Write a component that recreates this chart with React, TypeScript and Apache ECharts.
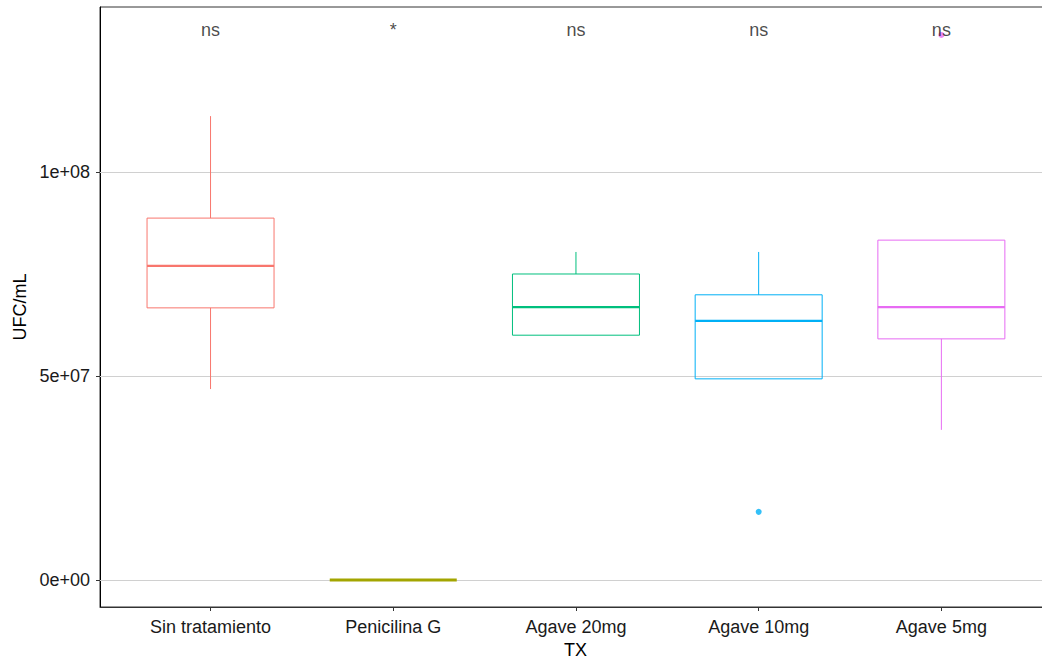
import React, { useEffect, useRef } from "react";
import * as echarts from "echarts";

const categories = ["Sin tratamiento", "Penicilina G", "Agave 20mg", "Agave 10mg", "Agave 5mg"];
// [min whisker, Q1, median, Q3, max whisker]
const boxStats = [
  [4.68e7, 6.67e7, 7.7e7, 8.87e7, 1.137e8],
  [0, 0, 0, 0, 0],
  [6.0e7, 6.0e7, 6.69e7, 7.5e7, 8.04e7],
  [4.93e7, 4.93e7, 6.35e7, 6.99e7, 8.04e7],
  [3.68e7, 5.91e7, 6.69e7, 8.33e7, 8.33e7],
];
const outliers = [
  [3, 1.67e7],
  [4, 1.336e8],
];
const sigLabels = ["ns", "*", "ns", "ns", "ns"];
const sigY = 1.348e8;
const colors = ["#F8766D", "#A3A500", "#00BF7D", "#00B0F6", "#E76BF3"];
const yTicks = [0, 5e7, 1e8];
const yTickLabels = ["0e+00", "5e+07", "1e+08"];
const xTicks = [0, 1, 2, 3, 4];

const FONT = "Liberation Sans, Arial, sans-serif";
const FS = 18;
const BOX_W = 127;

export default function App() {
  const ref = useRef<HTMLDivElement>(null);
  useEffect(() => {
    document.body.style.margin = "0";
    const chart = echarts.init(ref.current!, null, { renderer: "svg" });
    chart.setOption({
      animation: false,
      backgroundColor: "#ffffff",
      grid: {
        left: 100,
        right: -9,
        top: 7,
        bottom: 53,
        containLabel: false,
        outerBoundsMode: "none",
        show: true,
        borderColor: "#333333",
        borderWidth: 1,
        backgroundColor: "transparent",
      },
      xAxis: {
        type: "value",
        min: -0.605,
        max: 4.6,
        name: "TX",
        nameLocation: "middle",
        nameGap: 33,
        nameTextStyle: { fontFamily: FONT, fontSize: FS, color: "#000" },
        axisLine: { show: true, onZero: false, lineStyle: { color: "#333333", width: 1 } },
        axisTick: { show: true, length: 4, lineStyle: { color: "#333333" }, customValues: xTicks },
        axisLabel: {
          fontFamily: FONT,
          fontSize: FS,
          color: "#1a1a1a",
          margin: 11,
          customValues: xTicks,
          formatter: (v: number) => categories[Math.round(v)] ?? "",
        },
        splitLine: { show: false },
      },
      yAxis: {
        type: "value",
        min: -6.618e6,
        max: 1.4044e8,
        name: "UFC/mL",
        nameLocation: "middle",
        nameRotate: 90,
        nameGap: 71,
        nameTextStyle: { fontFamily: FONT, fontSize: FS, color: "#000" },
        axisLine: { show: true, onZero: false, lineStyle: { color: "#000000", width: 1 } },
        axisTick: { show: true, length: 4, lineStyle: { color: "#333333" }, customValues: yTicks },
        axisLabel: {
          fontFamily: FONT,
          fontSize: FS,
          color: "#1a1a1a",
          margin: 10,
          customValues: yTicks,
          formatter: (v: number) => {
            const i = yTicks.indexOf(v);
            return i >= 0 ? yTickLabels[i] : "";
          },
        },
        splitLine: { show: false },
      },
      series: [
        {
          type: "line",
          data: [],
          silent: true,
          z: 1,
          markLine: {
            silent: true,
            symbol: "none",
            z: 1,
            label: { show: false },
            lineStyle: { color: "#d0d0d0", width: 1, type: "solid" },
            data: yTicks.map((v) => ({ yAxis: v })),
          },
        },
        {
          type: "custom",
          z: 4,
          encode: { x: 0, y: [1, 2, 3, 4, 5] },
          data: boxStats.map((s, i) => [i, ...s]),
          renderItem: (params: any, api: any) => {
            const i = api.value(0);
            const x = api.coord([i, 0])[0];
            const y = (k: number) => api.coord([i, api.value(k)])[1];
            const yMin = y(1), yQ1 = y(2), yMed = y(3), yQ3 = y(4), yMax = y(5);
            const c = colors[params.dataIndex];
            const flat = yQ1 - yQ3 < 1;
            const children: any[] = [];
            if (yMax < yQ3)
              children.push({ type: "line", shape: { x1: x, y1: yMax, x2: x, y2: yQ3 }, style: { stroke: c, lineWidth: 1 } });
            if (yMin > yQ1)
              children.push({ type: "line", shape: { x1: x, y1: yQ1, x2: x, y2: yMin }, style: { stroke: c, lineWidth: 1 } });
            if (!flat)
              children.push({
                type: "rect",
                shape: { x: x - BOX_W / 2, y: yQ3, width: BOX_W, height: yQ1 - yQ3 },
                style: { fill: "none", stroke: c, lineWidth: 1 },
              });
            children.push({
              type: "line",
              shape: { x1: x - BOX_W / 2, y1: yMed, x2: x + BOX_W / 2, y2: yMed },
              style: { stroke: c, lineWidth: flat ? 3 : 2.2 },
            });
            return { type: "group", children };
          },
        },
        {
          type: "scatter",
          symbolSize: 6,
          z: 5,
          data: outliers.map((o) => ({ value: o, itemStyle: { color: colors[o[0]] } })),
        },
        {
          type: "scatter",
          symbolSize: 0,
          z: 6,
          data: sigLabels.map((t, i) => ({ value: [i, sigY], name: t })),
          label: {
            show: true,
            position: "inside",
            formatter: (p: any) => p.name,
            fontFamily: FONT,
            fontSize: FS,
            color: "#1a1a1a",
          },
        },
      ],
    });
    return () => chart.dispose();
  }, []);
  return <div ref={ref} style={{ position: "fixed", left: 0, top: 0, width: 1042, height: 660 }} />;
}
